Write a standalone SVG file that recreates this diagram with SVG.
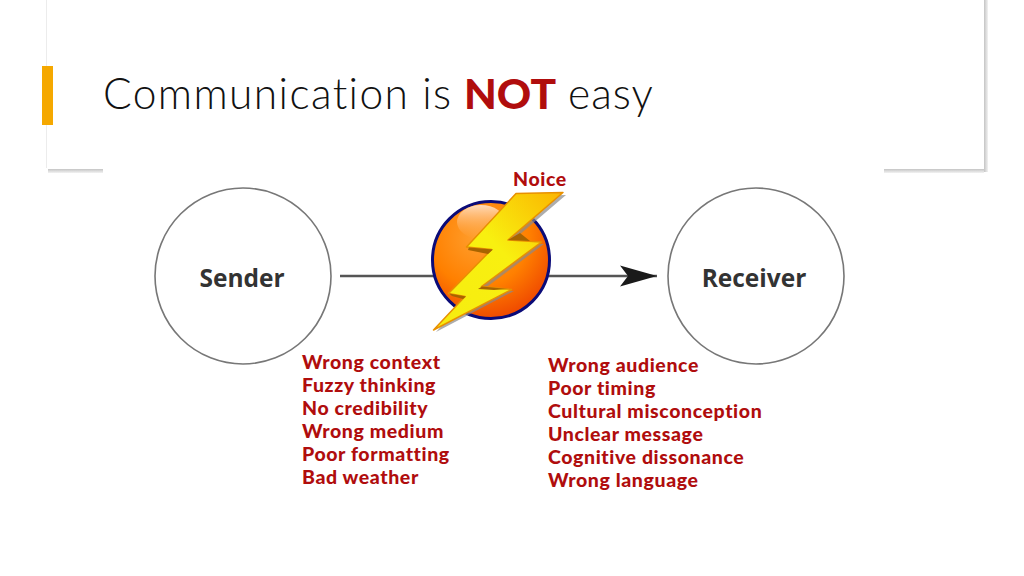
<svg xmlns="http://www.w3.org/2000/svg" width="1024" height="576" viewBox="0 0 1024 576">
<style>
.lbl{font-family:"Lato","Liberation Sans",sans-serif;font-weight:900;font-size:19.5px;fill:#b00d0d;font-variant-ligatures:none;letter-spacing:.6px}
.nodeT{font-family:"Open Sans","Liberation Sans",sans-serif;font-weight:700;font-size:24.5px;fill:#333;text-anchor:middle}
.ring{fill:#fff;stroke:#777;stroke-width:1.6}
.bevel{fill:#a86400}
</style>
<defs>
<linearGradient id="shadowV" x1="0" y1="0" x2="0" y2="1"><stop offset="0" stop-color="#c4c4c4"/><stop offset="1" stop-color="#f2f2f2"/></linearGradient>
<linearGradient id="shadowH" x1="0" y1="0" x2="1" y2="0"><stop offset="0" stop-color="#c4c4c4"/><stop offset="1" stop-color="#f2f2f2"/></linearGradient>
<radialGradient id="ball" cx="0.4" cy="0.3" r="0.85"><stop offset="0" stop-color="#ffa030"/><stop offset="0.5" stop-color="#ff8000"/><stop offset="1" stop-color="#e83000"/></radialGradient>
<linearGradient id="shine" x1="0" y1="0" x2="0" y2="1"><stop offset="0" stop-color="#ffe4cc" stop-opacity="0.9"/><stop offset="1" stop-color="#ffb060" stop-opacity="0"/></linearGradient>
<linearGradient id="boltFill" x1="0" y1="1" x2="1" y2="0"><stop offset="0" stop-color="#f6ec10"/><stop offset="0.55" stop-color="#f8f010"/><stop offset="1" stop-color="#fbb400"/></linearGradient>
<marker id="arrow" markerUnits="userSpaceOnUse" markerWidth="38" markerHeight="24" refX="37" refY="12" orient="auto"><path d="M0 1.500L37 12L0 22.500L8 12Z" fill="#1a1a1a"/></marker>
</defs>
<rect width="1024" height="576" fill="#fff"/>
<g id="panel">
<rect x="46" y="0" width="1" height="168" fill="#ececec"/>
<rect x="48" y="169" width="936" height="4" fill="url(#shadowV)"/>
<rect x="984" y="0" width="4" height="172" fill="url(#shadowH)"/>
<rect x="103" y="165" width="781" height="15" fill="#fff"/>
<rect x="42" y="66" width="11" height="59" fill="#f5a800"/>
</g>
<text id="title" y="109" font-family="Lato,'Liberation Sans',sans-serif" font-size="42.5" font-weight="300" fill="#111" style="font-variant-ligatures:none"><tspan x="103" letter-spacing="1.4">Communication is</tspan><tspan x="464" font-weight="900" fill="#b00d0d">NOT</tspan><tspan x="568" letter-spacing="1">easy</tspan></text>
<g id="connectors">
<line x1="340" y1="276" x2="440" y2="276" stroke="#555" stroke-width="2.500"/>
<line x1="545" y1="276" x2="657" y2="276" stroke="#555" stroke-width="2.500" marker-end="url(#arrow)"/>
</g>
<g id="sender"><circle class="ring" cx="243" cy="276" r="88"/><text class="nodeT" x="242" y="287">Sender</text></g>
<g id="receiver"><circle class="ring" cx="756" cy="276" r="88"/><text class="nodeT" x="754" y="287">Receiver</text></g>
<g id="noise">
<circle cx="491" cy="260" r="58.500" fill="url(#ball)" stroke="#0b0b78" stroke-width="3"/>
<ellipse cx="481" cy="222" rx="24" ry="17" fill="url(#shine)"/>
<path d="M518 196L566 195L511 242L544 244L484 289L514 291L436 332L467 298L450 295L493 251L468 249Z" fill="#8a8a8a" opacity=".7"/>
<path d="M516 193.500L563 192.500L508 240L541.500 242L481.500 286.500L511.500 289.500L433.500 330L465 296.500L448.500 293.500L491.500 249.500L466.500 247Z" fill="url(#boltFill)" stroke="#e89000" stroke-width="1.500" stroke-linejoin="round"/>
<path class="bevel" d="M469 247.500L493 249.500L488 254L468 250Z"/>
<path class="bevel" d="M449 293.500L466 296.500L463 299L452 296Z"/>
<path class="bevel" d="M508 240L530 241L520 233Z"/>
<path class="bevel" d="M482 286.500L508 289L494 290L478 289Z"/>
<text x="540" y="186" class="lbl" text-anchor="middle">Noice</text>
</g>
<g id="sender-issues">
<text class="lbl" x="302" y="369">Wrong context</text>
<text class="lbl" x="302" y="392">Fuzzy thinking</text>
<text class="lbl" x="302" y="415">No credibility</text>
<text class="lbl" x="302" y="438">Wrong medium</text>
<text class="lbl" x="302" y="461">Poor formatting</text>
<text class="lbl" x="302" y="484">Bad weather</text>
</g>
<g id="receiver-issues">
<text class="lbl" x="548" y="372">Wrong audience</text>
<text class="lbl" x="548" y="395">Poor timing</text>
<text class="lbl" x="548" y="418">Cultural misconception</text>
<text class="lbl" x="548" y="441">Unclear message</text>
<text class="lbl" x="548" y="464">Cognitive dissonance</text>
<text class="lbl" x="548" y="487">Wrong language</text>
</g>
</svg>
